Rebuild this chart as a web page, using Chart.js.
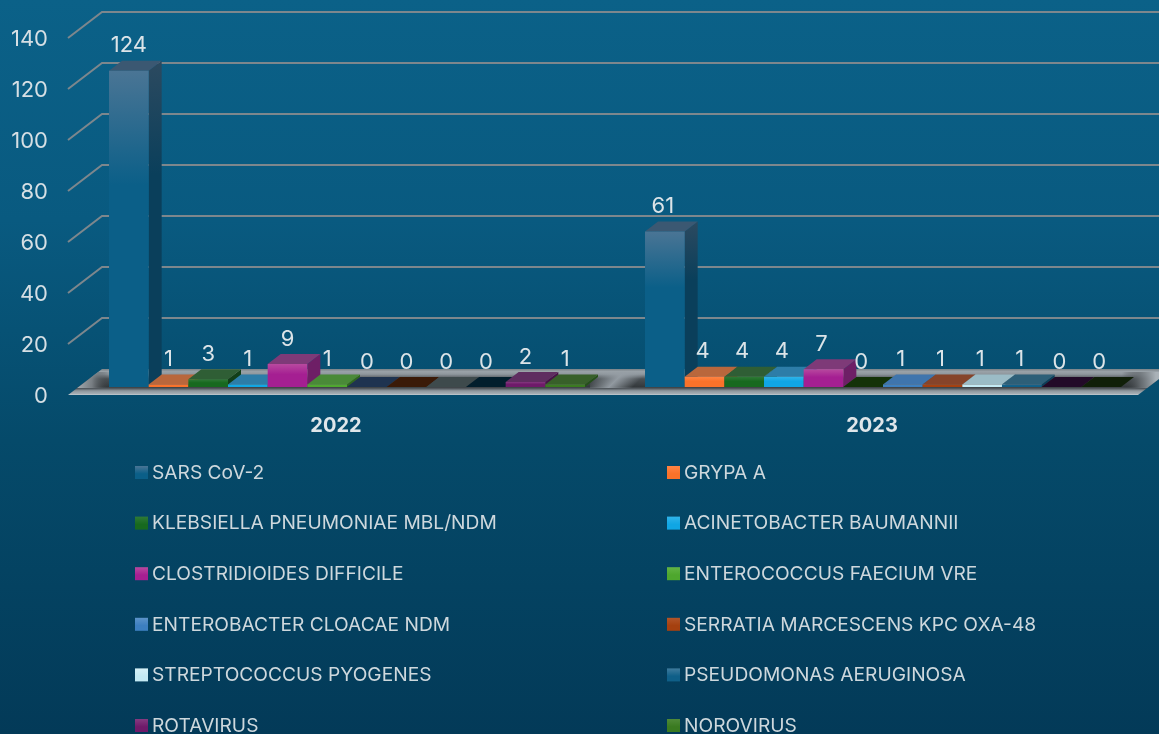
<!DOCTYPE html>
<html><head><meta charset="utf-8">
<style>html,body{margin:0;padding:0;background:#064f70;overflow:hidden}canvas{display:block}</style>
<script src="https://cdn.jsdelivr.net/npm/chart.js@4"></script>
</head><body><canvas id="c" width="1159" height="734"></canvas>
<script>
const categories = ['2022','2023'];
const seriesNames = ['SARS CoV-2','GRYPA A','KLEBSIELLA PNEUMONIAE MBL/NDM','ACINETOBACTER BAUMANNII','CLOSTRIDIOIDES DIFFICILE','ENTEROCOCCUS FAECIUM VRE','ENTEROBACTER CLOACAE NDM','SERRATIA MARCESCENS KPC OXA-48','STREPTOCOCCUS PYOGENES','PSEUDOMONAS AERUGINOSA','ROTAVIRUS','NOROVIRUS'];
const values2022 = [124,1,3,1,9,1,0,0,0,0,2,1];
const values2023 = [61,4,4,4,7,0,1,1,1,1,0,0];
const frontColors = ['#0b5f88','#f9722a','#17691f','#10a6e4','#a51f92','#4ea72e','#3c7fc0','#a5400f','#c3eaf4','#0f5f88','#6f1a6a','#3a7a20'];
const frontLight  = ['#4a7595','#ff8444','#2f7a37','#30b4ea','#b8499f','#62b445','#5c93c9','#b0552a','#d6f1f7','#3f7b9d','#853a80','#4f8a38'];
const topColors   = ['#3b5872','#b9673c','#2f5e35','#2d7da8','#7e3a78','#4a8a38','#3f75ad','#86442a','#9bbcc6','#2d5f78','#5f2d60','#38602a'];
const sideColors  = ['#0a3f5b','#a04a1c','#123f18','#0b6a94','#6e1f66','#2f6a1c','#2a5a88','#6a2a0a','#7f9ca3','#0a3f5b','#481247','#25501a'];
const zeroColors  = ['#0a2a3c','#4a2410','#0a2a10','#06405a','#3a0c36','#143208','#1e3350','#3a1a08','#3e4a4c','#021e2c','#220a28','#101f08'];

const DX = 13, DY = 10;
const FONT = 'Inter';

const pageBackground = {
  id:'pageBackground',
  beforeDraw(chart){
    const {ctx,width,height} = chart;
    const g = ctx.createLinearGradient(0,0,0,height);
    g.addColorStop(0,'#0b6188'); g.addColorStop(0.3,'#095a80'); g.addColorStop(0.6,'#054a6a'); g.addColorStop(1,'#033a58');
    ctx.save(); ctx.fillStyle=g; ctx.fillRect(0,0,width,height); ctx.restore();
  }
};

function drawWalls(chart){
  const {ctx,scales:{y},width} = chart;
  const zero = y.getPixelForValue(0);
  const fx0 = 68, fdy = 8, bx = 102, bdy = 26;
  ctx.save();
  ctx.strokeStyle='#7d878d'; ctx.lineWidth=2;
  y.ticks.forEach(t=>{
    if(t.value===0) return;
    const p = y.getPixelForValue(t.value)+fdy;
    ctx.beginPath(); ctx.moveTo(fx0,p); ctx.lineTo(bx,p-bdy); ctx.lineTo(width,p-bdy); ctx.stroke();
  });
  const fy = zero+fdy, by = fy-bdy, rx = 1138, tx = 1172;
  ctx.beginPath(); ctx.moveTo(fx0,fy); ctx.lineTo(bx,by); ctx.lineTo(tx,by); ctx.lineTo(rx,fy); ctx.closePath();
  ctx.clip();
  const vg = ctx.createLinearGradient(0,by,0,fy);
  vg.addColorStop(0,'#7a8287'); vg.addColorStop(0.1,'#9aa2a8'); vg.addColorStop(0.2,'#8f979d');
  vg.addColorStop(0.38,'#4a5054'); vg.addColorStop(0.68,'#34393c'); vg.addColorStop(0.74,'#4c5257');
  vg.addColorStop(0.84,'#8f979d'); vg.addColorStop(0.95,'#a6aeb4'); vg.addColorStop(1,'#c4ced4');
  ctx.fillStyle=vg; ctx.fillRect(0,by,width+20,fy-by);
  // left and right bevels of the floor
  let hg = ctx.createLinearGradient(74,0,110,0);
  hg.addColorStop(0,'rgba(176,184,190,1)'); hg.addColorStop(0.5,'rgba(130,136,141,.85)'); hg.addColorStop(1,'rgba(50,55,58,0)');
  ctx.fillStyle=hg; ctx.fillRect(60,by+3,60,fy-by-10);
  hg = ctx.createLinearGradient(1122,0,1156,0);
  hg.addColorStop(0,'rgba(40,44,47,0)'); hg.addColorStop(0.55,'rgba(110,116,121,.8)'); hg.addColorStop(1,'rgba(170,178,184,1)');
  ctx.fillStyle=hg; ctx.fillRect(1118,by+3,50,fy-by-10);
  // pale diagonal band in the gap between the two groups
  const dg = ctx.createLinearGradient(605,367,629,391);
  dg.addColorStop(0,'rgba(150,158,165,0)'); dg.addColorStop(0.5,'rgba(150,158,165,.95)'); dg.addColorStop(1,'rgba(150,158,165,0)');
  ctx.fillStyle=dg; ctx.fillRect(590,by+3,60,fy-by-10);
  ctx.restore();
}

function drawBar3D(chart,i,k,bar){
  const {ctx,scales:{y}} = chart;
  const zero = y.getPixelForValue(0);
  const v = chart.data.datasets[i].data[k];
  const l = bar.x-bar.width/2, r = bar.x+bar.width/2, t = bar.y;
  if(v>0){
    const sg = ctx.createLinearGradient(0,t-DY,0,zero);
    sg.addColorStop(0,i===0?'#2c4a60':sideColors[i]); sg.addColorStop(0.35,sideColors[i]); sg.addColorStop(1,sideColors[i]);
    ctx.fillStyle=sg;
    ctx.beginPath(); ctx.moveTo(r,t); ctx.lineTo(r+DX,t-DY); ctx.lineTo(r+DX,zero-DY); ctx.lineTo(r,zero); ctx.closePath(); ctx.fill();
  }
  ctx.fillStyle = v>0 ? topColors[i] : zeroColors[i];
  ctx.beginPath(); ctx.moveTo(l,t); ctx.lineTo(r,t); ctx.lineTo(r+DX,t-DY); ctx.lineTo(l+DX,t-DY); ctx.closePath(); ctx.fill();
  bar.draw(ctx);
}

const bars3D = {
  id:'bars3D',
  beforeDatasetsDraw(chart){
    drawWalls(chart);
    chart.ctx.save();
    chart.data.datasets.forEach((ds,i)=>{
      chart.getDatasetMeta(i).data.forEach((bar,k)=>drawBar3D(chart,i,k,bar));
    });
    chart.ctx.restore();
  },
  beforeDatasetDraw(){ return false; },
  afterDatasetsDraw(chart){
    const {ctx} = chart;
    ctx.save();
    ctx.font='22px '+FONT; ctx.fillStyle='#dce4e8'; ctx.textAlign='center'; ctx.textBaseline='middle';
    chart.data.datasets.forEach((ds,i)=>{
      chart.getDatasetMeta(i).data.forEach((bar,k)=>{
        ctx.fillText(String(ds.data[k]), bar.x-(k===1?2:0), bar.y-25);
      });
    });
    ctx.restore();
  }
};

const legendColumns = {
  id:'legendColumns',
  afterDraw(chart){
    const {ctx} = chart;
    const colX = [134,666], rowY0 = 472.5, rowH = 50.6;
    ctx.save();
    ctx.font='19.2px '+FONT; ctx.textAlign='left'; ctx.textBaseline='middle';
    chart.data.datasets.forEach((ds,i)=>{
      const x = colX[i%2], y = rowY0+rowH*Math.floor(i/2);
      const g = ctx.createLinearGradient(0,y-6.5,0,y+6.5);
      g.addColorStop(0,frontLight[i]); g.addColorStop(0.6,frontColors[i]); g.addColorStop(1,frontColors[i]);
      ctx.fillStyle=g; ctx.fillRect(x+1,y-6.5,13,13);
      ctx.fillStyle='#ced8dd'; ctx.fillText(ds.label,x+18,y+0.5);
    });
    ctx.restore();
  }
};

function frontFill(i){
  return (c)=>{
    const chart=c.chart; if(!chart.chartArea) return frontColors[i];
    const y=chart.scales.y, v=c.raw, t=y.getPixelForValue(v), b=y.getPixelForValue(0);
    if(v<=0) return frontColors[i];
    const g=chart.ctx.createLinearGradient(0,t,0,b);
    const stop = v>20?0.36:0.45;
    g.addColorStop(0,frontLight[i]); g.addColorStop(stop,frontColors[i]); g.addColorStop(1,frontColors[i]);
    return g;
  };
}

new Chart(document.getElementById('c'),{
  type:'bar',
  data:{
    labels:categories,
    datasets:seriesNames.map((name,i)=>({
      label:name,
      data:[values2022[i],values2023[i]],
      backgroundColor:frontFill(i),
      borderWidth:0,
      categoryPercentage:0.888,
      barPercentage:1
    }))
  },
  options:{
    responsive:false,animation:false,
    layout:{padding:{top:30,right:8,left:0,bottom:0}},
    plugins:{legend:{display:false},tooltip:{enabled:false},title:{display:false}},
    scales:{
      x:{
        afterFit(s){s.height=347;s.paddingLeft=0;s.paddingRight=0;},
        grid:{display:false},border:{display:false},
        ticks:{color:'#dfe6ea',font:{family:FONT,size:20,weight:'bold'},padding:19,labelOffset:-11,maxRotation:0}
      },
      y:{
        min:0,max:140,
        afterFit(s){s.width=79;s.paddingTop=0;s.paddingBottom=0;},
        grid:{display:false,drawTicks:false},border:{display:false},
        ticks:{stepSize:20,color:'#d6dfe4',font:{family:FONT,size:22},padding:31,labelOffset:9}
      }
    }
  },
  plugins:[pageBackground,bars3D,legendColumns]
});
</script></body></html>
